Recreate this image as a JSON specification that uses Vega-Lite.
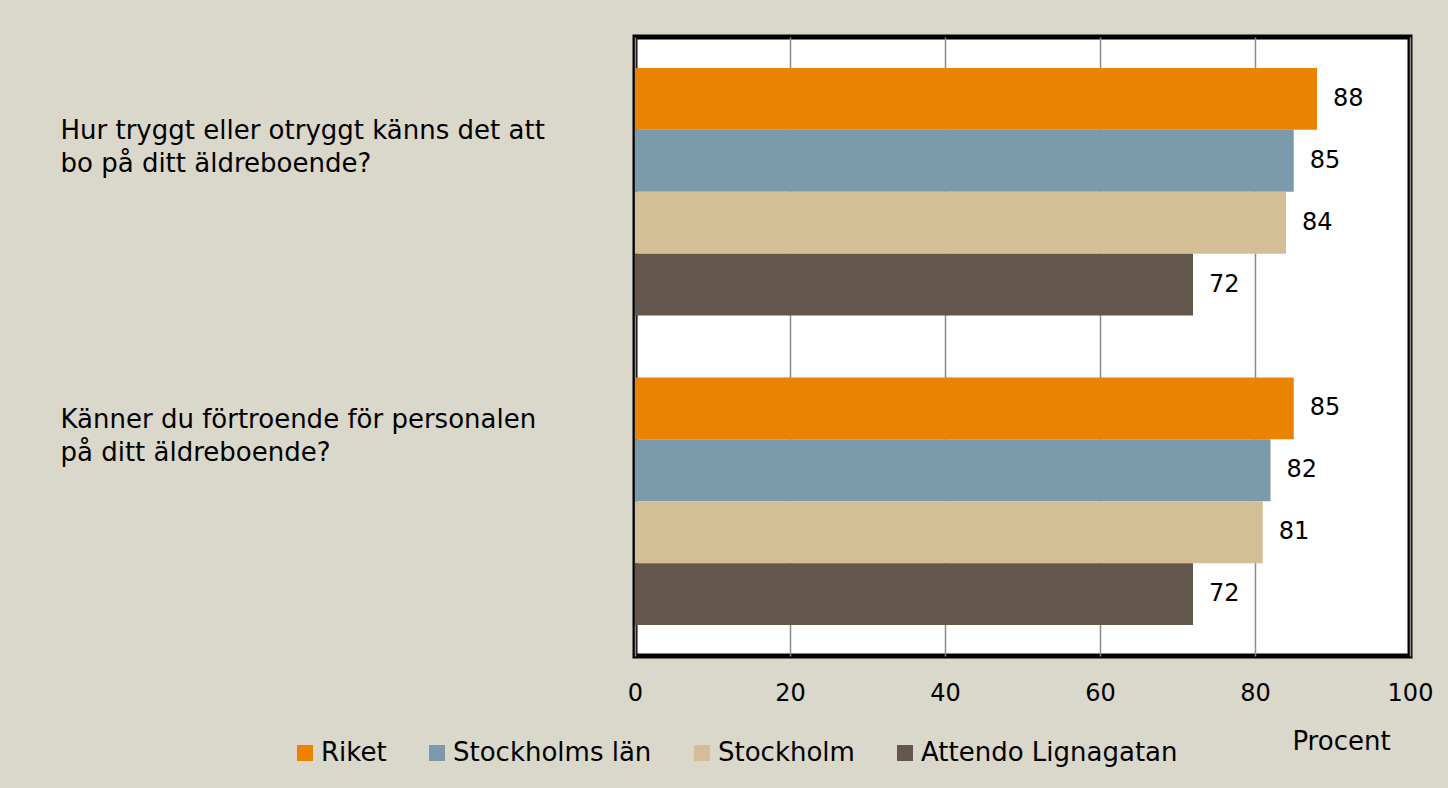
{
  "$schema": "https://vega.github.io/schema/vega-lite/v6.json",
  "autosize": {"type": "none"},
  "padding": {"left": 635, "top": 37, "right": 38, "bottom": 132},
  "width": 775,
  "height": 619,
  "background": "#DAD7CB",
  "config": {
    "view": {"fill": "white", "stroke": "black", "strokeWidth": 5},
    "font": "DejaVu Sans"
  },
  "data": {
    "values": [
      {"fraga": "Hur tryggt eller otryggt känns det att\nbo på ditt äldreboende?", "grupp": "Riket", "procent": 88},
      {"fraga": "Hur tryggt eller otryggt känns det att\nbo på ditt äldreboende?", "grupp": "Stockholms län", "procent": 85},
      {"fraga": "Hur tryggt eller otryggt känns det att\nbo på ditt äldreboende?", "grupp": "Stockholm", "procent": 84},
      {"fraga": "Hur tryggt eller otryggt känns det att\nbo på ditt äldreboende?", "grupp": "Attendo Lignagatan", "procent": 72},
      {"fraga": "Känner du förtroende för personalen\npå ditt äldreboende?", "grupp": "Riket", "procent": 85},
      {"fraga": "Känner du förtroende för personalen\npå ditt äldreboende?", "grupp": "Stockholms län", "procent": 82},
      {"fraga": "Känner du förtroende för personalen\npå ditt äldreboende?", "grupp": "Stockholm", "procent": 81},
      {"fraga": "Känner du förtroende för personalen\npå ditt äldreboende?", "grupp": "Attendo Lignagatan", "procent": 72}
    ]
  },
  "encoding": {
    "y": {
      "field": "fraga",
      "type": "nominal",
      "sort": null,
      "scale": {"paddingInner": 0.2, "paddingOuter": 0.1},
      "axis": {
        "title": null,
        "domain": false,
        "ticks": false,
        "labelAlign": "left",
        "labelBaseline": "middle",
        "labelPadding": 575,
        "labelFontSize": 26,
        "labelColor": "black",
        "labelLineHeight": 33,
        "labelLimit": 0,
        "labelExpr": "split(datum.label, '\\n')",
        "labelOffset": {"condition": {"test": "datum.value < 'J'", "value": -61}, "value": -81}
      }
    },
    "yOffset": {
      "field": "grupp",
      "type": "nominal",
      "scale": {"domain": ["Riket", "Stockholms län", "Stockholm", "Attendo Lignagatan"], "paddingInner": 0, "paddingOuter": 0}
    },
    "x": {
      "field": "procent",
      "type": "quantitative",
      "scale": {"domain": [0, 100], "nice": false},
      "axis": {
        "values": [0, 20, 40, 60, 80, 100],
        "title": "Procent",
        "titleX": 706,
        "titleY": 85,
        "titleAlign": "center",
        "titleBaseline": "middle",
        "titleFontSize": 26,
        "titleFontWeight": "normal",
        "titleColor": "black",
        "domain": false,
        "ticks": false,
        "grid": true,
        "gridColor": "#8A8A8A",
        "gridWidth": 1.5,
        "labelFontSize": 24,
        "labelColor": "black",
        "labelBaseline": "middle",
        "labelPadding": 37,
        "labelFlush": false
      }
    }
  },
  "layer": [
    {
      "mark": {"type": "bar", "cornerRadius": 0},
      "encoding": {
        "color": {
          "field": "grupp",
          "type": "nominal",
          "scale": {
            "domain": ["Riket", "Stockholms län", "Stockholm", "Attendo Lignagatan"],
            "range": ["#E98300", "#7B9AAC", "#D4BE95", "#63564B"]
          },
          "legend": {
            "title": null,
            "orient": "none",
            "legendX": -343,
            "legendY": 703,
            "direction": "horizontal",
            "columns": 4,
            "symbolType": "square",
            "symbolSize": 256,
            "symbolStrokeWidth": 0,
            "labelFontSize": 26,
            "labelColor": "black",
            "labelOffset": 3,
            "columnPadding": 37,
            "labelLimit": 0
          }
        }
      }
    },
    {
      "mark": {"type": "text", "align": "left", "baseline": "middle", "dx": 16, "fontSize": 24, "color": "black"},
      "encoding": {
        "text": {"field": "procent", "type": "quantitative"}
      }
    }
  ]
}
